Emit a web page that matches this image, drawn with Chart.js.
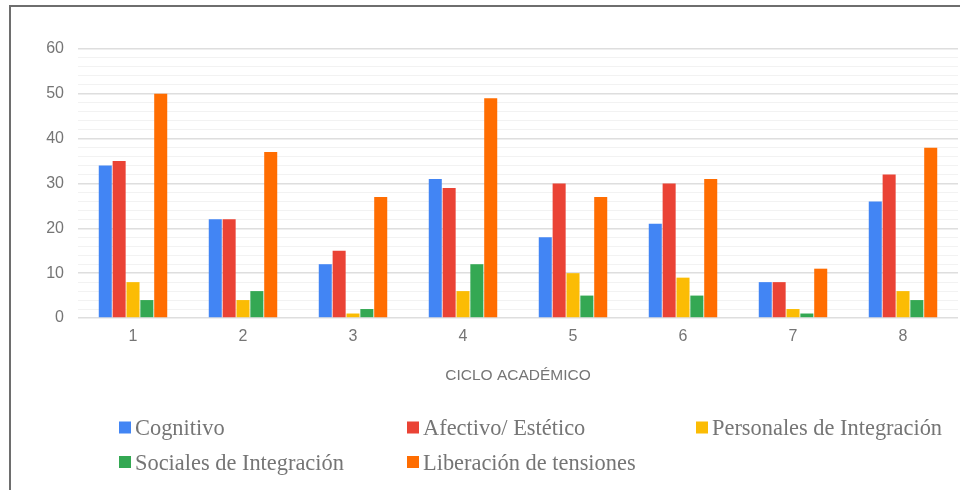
<!DOCTYPE html>
<html>
<head>
<meta charset="utf-8">
<title>Ciclo académico</title>
<script src="https://cdn.jsdelivr.net/npm/chart.js@4.4.1/dist/chart.umd.min.js"></script>
<style>
  html, body { margin: 0; padding: 0; background: #fff; }
  #wrap { position: relative; width: 960px; height: 490px; overflow: hidden; }
  #frame { position: absolute; left: 9px; top: 5px; width: 960px; height: 490px;
           border-left: 2px solid #6e6e6e; border-top: 2px solid #6e6e6e; }
  canvas { position: absolute; left: 0; top: 0; }
</style>
</head>
<body>
<div id="wrap">
  <div id="frame"></div>
  <canvas id="myChart" width="960" height="490"></canvas>
</div>
<script>
// data
var ciclos = ['1', '2', '3', '4', '5', '6', '7', '8'];
var cognitivo   = [34, 22, 12, 31, 18, 21, 8, 26];
var afectivo    = [35, 22, 15, 29, 30, 30, 8, 32];
var personales  = [8, 4, 1, 6, 10, 9, 2, 6];
var sociales    = [4, 6, 2, 12, 5, 5, 1, 4];
var liberacion  = [50, 37, 27, 49, 27, 31, 11, 38];
var seriesNames = ['Cognitivo', 'Afectivo/ Estético', 'Personales de Integración',
                   'Sociales de Integración', 'Liberación de tensiones'];
var colors = ['#4285f4', '#ea4335', '#fbbc04', '#34a853', '#ff6d01'];
var yMax = 60, yMajor = 10, yMinor = 2;
var axisTitle = 'CICLO ACADÉMICO';

var grey = '#757575';

// legend drawn in three fixed columns, like the original
var gridLegend = {
  id: 'gridLegend',
  afterDraw: function(chart) {
    var ctx = chart.ctx;
    var cols = [119, 407, 696];
    var rows = [435, 469.5];
    ctx.save();
    ctx.font = '22.4px "Liberation Serif", "Times New Roman", serif';
    ctx.textBaseline = 'alphabetic';
    ctx.textAlign = 'left';
    chart.data.datasets.forEach(function(ds, i) {
      var x = cols[i % 3], y = rows[Math.floor(i / 3)];
      ctx.fillStyle = ds.backgroundColor;
      ctx.fillRect(x, y - 13.5, 12, 12);
      ctx.fillStyle = grey;
      ctx.fillText(ds.label, x + 16, y);
    });
    ctx.restore();
  }
};

var series = [cognitivo, afectivo, personales, sociales, liberacion];
var ctx = document.getElementById('myChart').getContext('2d');
var chart = new Chart(ctx, {
  type: 'bar',
  data: {
    labels: ciclos,
    datasets: series.map(function(s, i) {
      return {
        label: seriesNames[i],
        data: s,
        backgroundColor: colors[i],
        categoryPercentage: 0.63,
        barPercentage: 0.94
      };
    })
  },
  options: {
    responsive: false,
    animation: false,
    layout: { padding: { top: 49, right: 2, bottom: 92, left: 0 } },
    plugins: {
      legend: { display: false },
      tooltip: { enabled: false }
    },
    scales: {
      x: {
        grid: { display: false, drawTicks: false },
        border: { display: false },
        ticks: { color: grey, padding: 9, font: { family: 'Arial, "Liberation Sans"', size: 16 } },
        title: {
          display: true,
          text: axisTitle,
          color: grey,
          padding: { top: 0, bottom: 13 },
          font: { family: 'Arial, "Liberation Sans"', size: 15.5 }
        },
        afterFit: function(scale) { scale.height = 80; }
      },
      y: {
        min: 0,
        max: yMax,
        border: { display: false },
        grid: {
          drawTicks: false,
          color: function(c) { return c.tick.value % yMajor === 0 ? '#dedede' : '#f2f2f2'; },
          lineWidth: function(c) { return c.tick.value % yMajor === 0 ? 1.6 : 1; }
        },
        ticks: {
          stepSize: yMinor,
          autoSkip: false,
          padding: 14,
          color: grey,
          font: { family: 'Arial, "Liberation Sans"', size: 16 },
          callback: function(v) { return v % yMajor === 0 ? v : ''; }
        },
        afterFit: function(scale) { scale.width = 78; }
      }
    }
  },
  plugins: [gridLegend]
});
</script>
</body>
</html>
